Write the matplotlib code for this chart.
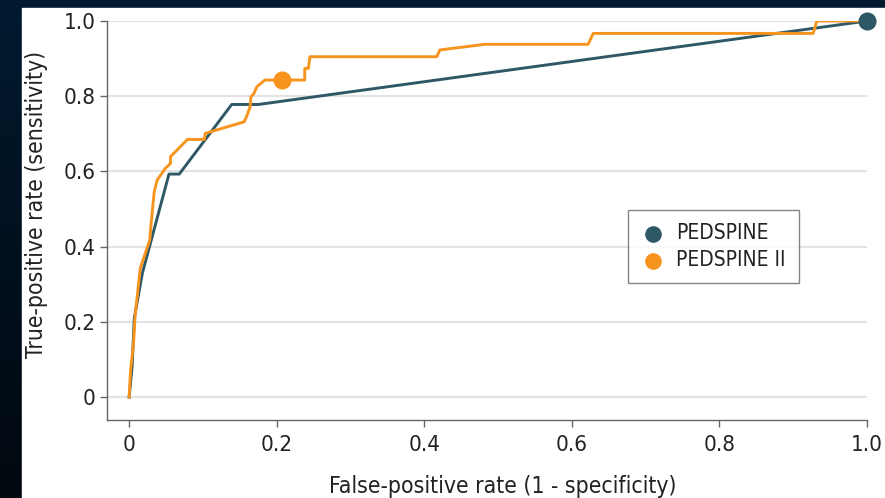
import numpy as np
import matplotlib.pyplot as plt
from matplotlib.patches import Rectangle
from matplotlib.colors import LinearSegmentedColormap

plt.rcParams['font.family'] = ['DejaVu Sans']
plt.rcParams['font.stretch'] = 'condensed'

# ROC curve points
ped_fpr = [0.0, 0.004, 0.007, 0.018, 0.054, 0.068, 0.139, 0.175, 1.0]
ped_tpr = [0.0, 0.08, 0.21, 0.33, 0.593, 0.593, 0.778, 0.778, 1.0]

ped2_fpr = [0.0, 0.002, 0.006, 0.008, 0.015, 0.028, 0.029, 0.034, 0.038, 0.049,
            0.056, 0.056, 0.079, 0.102, 0.103, 0.156, 0.160, 0.164, 0.165, 0.169,
            0.173, 0.184, 0.207, 0.238, 0.238, 0.243, 0.245, 0.417, 0.421, 0.482,
            0.622, 0.629, 0.927, 0.932, 1.0]
ped2_tpr = [0.0, 0.072, 0.143, 0.214, 0.342, 0.418, 0.444, 0.546, 0.577, 0.608,
            0.621, 0.639, 0.685, 0.685, 0.701, 0.732, 0.750, 0.772, 0.798, 0.807,
            0.825, 0.843, 0.843, 0.843, 0.874, 0.874, 0.905, 0.905, 0.923, 0.938,
            0.938, 0.967, 0.967, 1.0, 1.0]

# operating points (markers)
ped_pt = (1.0, 1.0)
ped2_pt = (0.207, 0.843)

labels = ['PEDSPINE', 'PEDSPINE II']
teal = '#2e5866'
orange = '#f7941e'

xticks = [0, 0.2, 0.4, 0.6, 0.8, 1.0]
xticklabels = ['0', '0.2', '0.4', '0.6', '0.8', '1.0']
yticks = [0, 0.2, 0.4, 0.6, 0.8, 1.0]
yticklabels = ['0', '0.2', '0.4', '0.6', '0.8', '1.0']

fig = plt.figure(figsize=(8.85, 4.98), dpi=100)

# dark background with a slight vertical gradient
bg = fig.add_axes([0, 0, 1, 1], zorder=-10)
grad = np.linspace(0, 1, 256).reshape(-1, 1)
cmap = LinearSegmentedColormap.from_list('bg', ['#021a30', '#01080f'])
bg.imshow(grad, aspect='auto', cmap=cmap, extent=[0, 1, 0, 1], origin='upper')
bg.set_xlim(0, 1)
bg.set_ylim(0, 1)
bg.axis('off')
bg.add_patch(Rectangle((22 / 885, 0), 1, 1 - 8 / 498, color='white', zorder=2))

ax = fig.add_axes([107 / 885, 1 - 420 / 498, 760 / 885, 399 / 498])
ax.set_facecolor('none')

ax.plot(ped_fpr, ped_tpr, color=teal, lw=2.1, zorder=3, solid_joinstyle='round')
ax.plot(ped2_fpr, ped2_tpr, color=orange, lw=2.1, zorder=4, solid_joinstyle='round')
ax.plot(*ped_pt, 'o', color=teal, ms=12, zorder=5, clip_on=False)
ax.plot(*ped2_pt, 'o', color=orange, ms=12, zorder=5, clip_on=False)

ax.set_xlim(-0.03, 1.0)
ax.set_ylim(-0.061, 1.0)
ax.set_xticks(xticks)
ax.set_xticklabels(xticklabels)
ax.set_yticks(yticks)
ax.set_yticklabels(yticklabels)

for y in yticks:
    ax.axhline(y, color='#e3e3e3', lw=1.5, zorder=1)

for s in ['top', 'right']:
    ax.spines[s].set_visible(False)
for s in ['left', 'bottom']:
    ax.spines[s].set_color('#666666')
    ax.spines[s].set_linewidth(1.0)

ax.tick_params(axis='both', colors='#666666', length=5, width=1.0,
               labelsize=16, labelcolor='#222222')
ax.tick_params(axis='x', pad=6)
ax.tick_params(axis='y', pad=3)

ax.set_xlabel('False-positive rate (1 - specificity)', fontsize=16.5, color='#222222')
ax.set_ylabel('True-positive rate (sensitivity)', fontsize=16.5, color='#222222')
ax.xaxis.set_label_coords(0.521, -0.137)
ax.yaxis.set_label_coords(-0.077, 0.54)

h1 = ax.scatter([], [], s=120, color=teal)
h2 = ax.scatter([], [], s=120, color=orange)
leg = ax.legend([h1, h2], labels, loc='upper right', bbox_to_anchor=(0.91, 0.526),
                borderaxespad=0, fontsize=15, frameon=True, fancybox=False,
                edgecolor='#666666', handletextpad=0.5, borderpad=0.62,
                labelspacing=0.35, handlelength=1.2)
leg.get_frame().set_linewidth(1.0)
for t in leg.get_texts():
    t.set_color('#222222')

fig.savefig('out.png', dpi=100)
